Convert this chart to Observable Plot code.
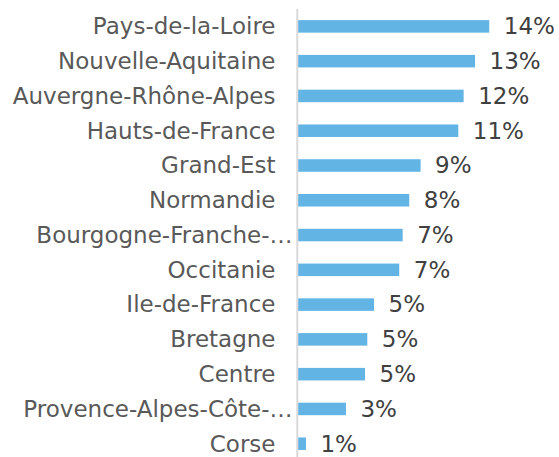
<!DOCTYPE html>
<html>
<head>
<meta charset="utf-8">
<script src="https://cdn.jsdelivr.net/npm/d3@7"></script>
<script src="https://cdn.jsdelivr.net/npm/@observablehq/plot@0.6"></script>
<style>
  html, body { margin: 0; padding: 0; background: #fff; overflow: hidden; }
  #chart svg { display: block; overflow: visible; }
</style>
</head>
<body>
<div id="chart"></div>
<script>
const regions = [
  "Pays-de-la-Loire",
  "Nouvelle-Aquitaine",
  "Auvergne-Rhône-Alpes",
  "Hauts-de-France",
  "Grand-Est",
  "Normandie",
  "Bourgogne-Franche-…",
  "Occitanie",
  "Ile-de-France",
  "Bretagne",
  "Centre",
  "Provence-Alpes-Côte-…",
  "Corse"
];
const shares = [13.96, 12.92, 12.09, 11.70, 8.95, 8.12, 7.64, 7.39, 5.55, 5.06, 4.89, 3.50, 0.58];
const valueLabels = ["14%", "13%", "12%", "11%", "9%", "8%", "7%", "7%", "5%", "5%", "5%", "3%", "1%"];

const data = regions.map((r, i) => ({region: r, share: shares[i], label: valueLabels[i]}));
const full = data.filter(d => !d.region.endsWith("…"));
const truncated = data.filter(d => d.region.endsWith("…"));

const chart = Plot.plot({
  width: 559,
  height: 462,
  marginLeft: 298,
  marginRight: 0,
  marginTop: 9,
  marginBottom: 0.9,
  style: {fontFamily: "DejaVu Sans", background: "#fff"},
  x: {domain: [0, 261 / 13.7], axis: null},
  y: {domain: regions, paddingInner: 0.64, paddingOuter: 0.32, round: false, axis: null},
  marks: [
    Plot.barX(data, {x: "share", y: "region", fill: "#62B4E5"}),
    Plot.ruleX([0], {stroke: "#d9d9d9", strokeWidth: 2, dx: -1.2}),
    Plot.text(full, {y: "region", text: "region", frameAnchor: "left", textAnchor: "end", dx: -23, fontSize: 23, fill: "#595959"}),
    Plot.text(truncated, {y: "region", text: "region", frameAnchor: "left", textAnchor: "end", dx: -6, fontSize: 23, fill: "#595959"}),
    Plot.text(data, {x: "share", y: "region", text: "label", textAnchor: "start", dx: 14, fontSize: 23, fill: "#404040"})
  ]
});
document.getElementById("chart").appendChild(chart);
</script>
</body>
</html>
